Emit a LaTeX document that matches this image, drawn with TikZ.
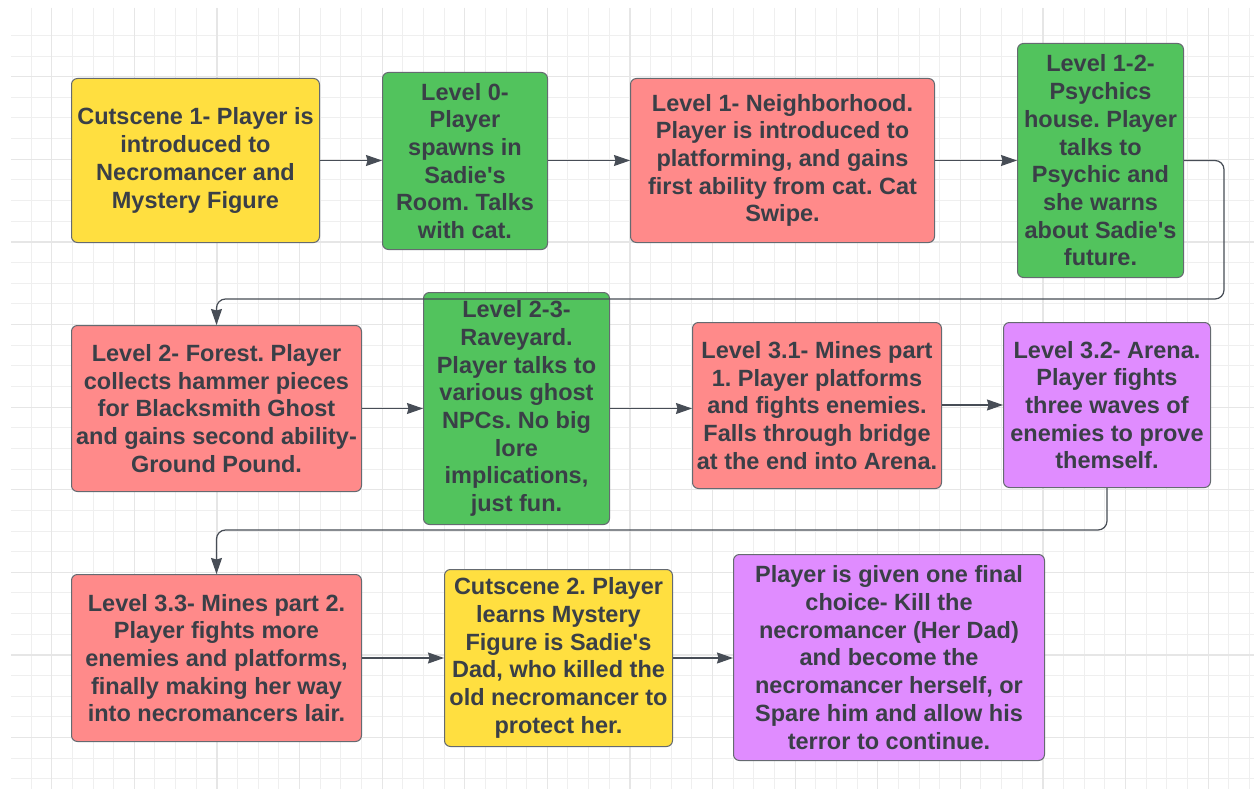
\documentclass[tikz,border=0pt]{standalone}
\usepackage{fontspec}
\setmainfont{Liberation Sans}
\usetikzlibrary{arrows.meta}
\frenchspacing
\definecolor{cyel}{HTML}{FFDF40}
\definecolor{cgrn}{HTML}{52C35D}
\definecolor{cred}{HTML}{FF8A8A}
\definecolor{cpur}{HTML}{E08CFF}
\definecolor{ctxt}{HTML}{3A3F47}
\definecolor{cbrd}{HTML}{656A70}
\definecolor{cline}{HTML}{474D56}
\definecolor{gminor}{HTML}{EFEFEF}
\definecolor{gmajor}{HTML}{E6E6E6}
\newcommand{\ap}{\textquotesingle}
\tikzset{
  box/.style={draw=cbrd, line width=1pt, rounded corners=6pt, anchor=north west,
    inner sep=0pt, align=center, text=ctxt,
    font=\fontsize{23.5}{27.7}\selectfont\bfseries},
  arr/.style={draw=cline, line width=1.2pt, -{Stealth[length=16pt,width=11pt,inset=1.5pt]}},
}
\begin{document}
\begin{tikzpicture}[x=1pt,y=-1pt]
\useasboundingbox (0,0) rectangle (1254,789);
\fill[white] (0,0) rectangle (1254,789);
% grid
\foreach \i in {1,...,60} {
  \pgfmathsetmacro{\xx}{10.4+20.65*\i}
  \draw[gminor, line width=1pt] (\xx,8) -- (\xx,789);
}
\foreach \i in {1,...,37} {
  \pgfmathsetmacro{\yy}{14.75+20.65*\i}
  \draw[gminor, line width=1pt] (11,\yy) -- (1254,\yy);
}
\foreach \i in {0,...,15} {
  \pgfmathsetmacro{\xx}{51.7+82.6*\i}
  \draw[gmajor, line width=1.2pt] (\xx,8) -- (\xx,789);
}
\foreach \i in {0,...,9} {
  \pgfmathsetmacro{\yy}{76.7+82.6*\i}
  \draw[gmajor, line width=1.2pt] (11,\yy) -- (1254,\yy);
}
% nodes
\node[box, fill=cyel, minimum width=248pt, minimum height=164pt] (c1) at (71,78)
  {Cutscene 1- Player is\\introduced to\\Necromancer and\\Mystery Figure};
\node[box, fill=cgrn, minimum width=165pt, minimum height=177pt] (l0) at (382,72)
  {Level 0-\\Player\\spawns in\\Sadie\ap s\\Room. Talks\\with cat.};
\node[box, fill=cred, minimum width=304pt, minimum height=164pt] (l1) at (630,78)
  {Level 1- Neighborhood.\\Player is introduced to\\platforming, and gains\\first ability from cat. Cat\\Swipe.};
\node[box, fill=cgrn, minimum width=166pt, minimum height=234pt] (l12) at (1017,43)
  {Level 1-2-\\Psychics\\house. Player\\talks to\\Psychic and\\she warns\\about Sadie\ap s\\future.};
\node[box, fill=cred, minimum width=290pt, minimum height=166pt] (l2) at (71,325)
  {Level 2- Forest. Player\\collects hammer pieces\\for Blacksmith Ghost\\and gains second ability-\\Ground Pound.};
\node[box, fill=cgrn, minimum width=186pt, minimum height=232pt] (l23) at (423,292)
  {Level 2-3-\\Raveyard.\\Player talks to\\various ghost\\NPCs. No big\\lore\\implications,\\just fun.};
\node[box, fill=cred, minimum width=249pt, minimum height=166pt] (l31) at (692,322)
  {Level 3.1- Mines part\\1. Player platforms\\and fights enemies.\\Falls through bridge\\at the end into Arena.};
\node[box, fill=cpur, minimum width=207pt, minimum height=165pt] (l32) at (1003,322)
  {Level 3.2- Arena.\\Player fights\\three waves of\\enemies to prove\\themself.};
\node[box, fill=cred, minimum width=290pt, minimum height=167pt] (l33) at (71,574)
  {Level 3.3- Mines part 2.\\Player fights more\\enemies and platforms,\\finally making her way\\into necromancers lair.};
\node[box, fill=cyel, minimum width=228pt, minimum height=177pt] (c2) at (444,569)
  {Cutscene 2. Player\\learns Mystery\\Figure is Sadie\ap s\\Dad, who killed the\\old necromancer to\\protect her.};
\node[box, fill=cpur, minimum width=311pt, minimum height=206pt] (fin) at (733,554)
  {Player is given one final\\choice- Kill the\\necromancer (Her Dad)\\and become the\\necromancer herself, or\\Spare him and allow his\\terror to continue.};
% connectors
\coordinate (r1) at (1224,299);
\coordinate (r2) at (600,530);
\draw[arr] (c1.east) -- (c1.east -| l0.west);
\draw[arr] (l0.east |- c1.east) -- (c1.east -| l1.west);
\draw[arr] (l1.east) -- (l1.east -| l12.west);
\draw[arr, rounded corners=9pt] (l12.east) -| (r1) -| (l2.north);
\draw[arr] (l2.east) -- (l2.east -| l23.west);
\draw[arr] (l23.east) -- (l23.east -| l31.west);
\draw[arr] (l31.east |- l32.west) -- (l32.west);
\draw[arr, rounded corners=9pt] (l32.south) |- (r2) -| (l33.north);
\draw[arr] (l33.east) -- (l33.east -| c2.west);
\draw[arr] (c2.east) -- (c2.east -| fin.west);
\end{tikzpicture}
\end{document}
